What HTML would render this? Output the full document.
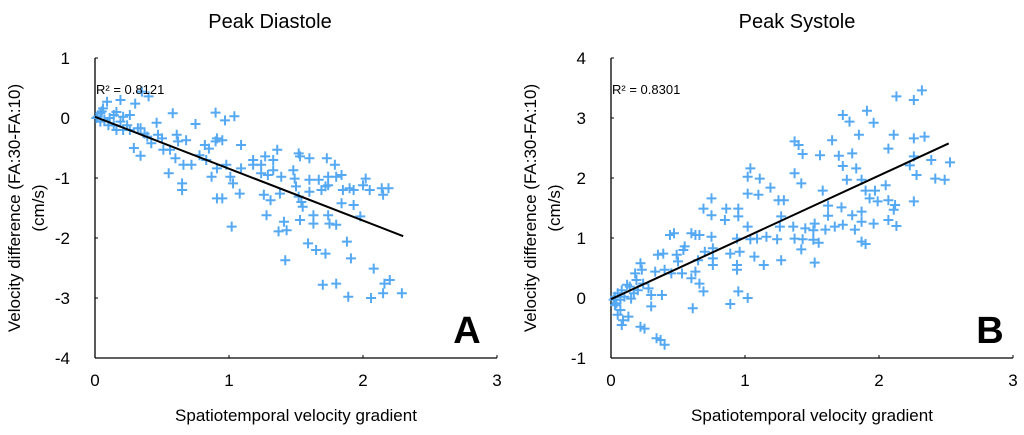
<!DOCTYPE html>
<html><head><meta charset="utf-8"><style>
html,body{margin:0;padding:0;background:#fff;}
svg{display:block;font-family:"Liberation Sans",Arial,sans-serif;}
</style></head><body>
<svg id="chart" width="1024" height="435" viewBox="0 0 1024 435"></svg>
<script>
// ---- Panel A data (Peak Diastole) ----
const diastoleX = [0.09,0.19,0.3,0.35,0.4,0.58,0.9,0.97,1.04,0.75,0.46,0.34,0.26,0.16,0.04,0.06,0.11,0.14,0.21,0.29,0.34,0.39,0.42,0.5,0.51,0.55,0.61,0.62,0.6,0.66,0.65,0.65,0.72,0.82,0.85,0.9,0.95,0.87,0.91,0.95,0.91,0.98,1.01,1.03,1.02,1.09,1.09,1.08,1.18,1.18,1.24,1.27,1.36,1.33,1.29,1.26,1.31,1.28,1.37,1.41,1.43,1.42,1.39,1.38,1.48,1.49,1.52,1.53,1.5,1.52,1.54,1.53,1.55,1.59,1.6,1.6,1.6,1.63,1.63,1.65,1.67,1.69,1.72,1.7,1.73,1.74,1.74,1.74,1.75,1.79,1.8,1.8,1.8,1.84,1.84,1.85,1.88,1.89,1.9,1.91,1.93,1.93,1.98,2.0,2.02,2.05,2.06,2.08,2.14,2.15,2.16,2.15,2.19,2.2,2.29,0.91,0.83,0.78,0.68,0.56,0.47,0.37,0.32,0.24,0.19,0.07,0.02,0.05,0.14,0.21,0.1,0.16,0.01,0.04,0.26,1.24,1.33,1.72];
const diastoleY = [0.27,0.3,0.24,0.44,0.36,0.08,0.09,-0.04,0.03,-0.1,-0.08,-0.17,0.05,0.1,0.08,0.16,0,-0.12,-0.2,-0.5,-0.63,-0.31,-0.42,-0.34,-0.53,-0.92,-0.28,-0.39,-0.67,-0.78,-1.09,-1.2,-0.78,-0.45,-0.51,-0.39,-0.37,-0.98,-1.34,-1.34,-0.84,-0.78,-0.98,-1.09,-1.81,-0.45,-0.84,-1.26,-0.7,-0.78,-0.92,-0.64,-0.53,-0.87,-0.95,-1.28,-1.37,-1.62,-1.89,-1.73,-1.87,-2.37,-0.98,-1.26,-0.87,-1.01,-0.59,-0.64,-1.14,-1.31,-1.4,-1.7,-1.48,-2.09,-0.67,-1.03,-1.23,-1.62,-1.76,-2.2,-1.03,-1.2,-2.26,-2.78,-0.67,-0.98,-1.12,-1.62,-1.76,-0.78,-0.98,-1.78,-2.76,-0.95,-1.42,-1.2,-2.06,-2.98,-1.17,-2.34,-1.45,-1.2,-1.64,-1.12,-1.01,-1.2,-3.0,-2.51,-1.17,-1.28,-2.76,-2.92,-1.17,-2.7,-2.92,-0.34,-0.7,-0.62,-0.37,-0.53,-0.28,-0.26,-0.17,-0.12,-0.06,-0.03,0.02,0.11,0.05,0.02,-0.12,-0.2,0,-0.06,-0.2,-0.78,-0.7,-1.14];
const diastoleFit = [0.02, -0.865]; // intercept, slope
// ---- Panel B data (Peak Systole) ----
const systoleX = [2.13,2.32,2.26,1.73,1.78,1.91,1.96,1.85,1.65,1.37,1.4,1.43,1.56,1.7,1.8,1.73,1.83,2.11,2.07,2.26,2.34,2.26,2.39,2.53,2.23,2.28,2.42,2.49,1.76,1.87,1.37,1.42,1.04,1.02,1.11,1.19,1.02,1.1,1.25,1.29,1.58,1.9,1.97,2.05,1.93,1.99,2.07,2.12,2.11,2.26,1.62,1.72,1.8,1.87,1.62,2.07,2.13,1.96,1.87,1.73,1.67,1.6,1.82,1.52,1.51,1.45,1.36,1.27,1.26,1.37,1.43,1.42,1.51,1.55,1.52,1.87,1.9,1.24,1.16,1.09,1.04,0.94,1.02,1.27,1.14,1.07,0.96,0.89,0.94,0.94,0.95,1.02,0.89,0.75,0.69,0.75,0.86,0.95,0.85,0.95,0.75,0.76,0.7,0.76,0.76,0.65,0.63,0.6,0.63,0.66,0.55,0.54,0.49,0.44,0.47,0.39,0.35,0.5,0.45,0.4,0.33,0.53,0.6,0.66,0.69,0.61,0.38,0.3,0.3,0.22,0.23,0.18,0.19,0.24,0.28,0.14,0.12,0.08,0.05,0.03,0.02,0.04,0.07,0.05,0.09,0.08,0.13,0.22,0.25,0.34,0.37,0.4,0.1,0.15,0.2,0.17,0.07,0.03];
const systoleY = [3.36,3.46,3.3,3.05,2.94,3.12,2.92,2.72,2.63,2.61,2.55,2.4,2.38,2.37,2.41,2.2,2.16,2.72,2.49,2.66,2.69,2.36,2.3,2.26,2.21,2.05,1.99,1.97,1.97,1.97,2.08,1.91,2.16,2.02,1.99,1.84,1.74,1.72,1.63,1.63,1.79,1.79,1.79,1.88,1.66,1.61,1.63,1.55,1.47,1.61,1.54,1.51,1.38,1.44,1.37,1.3,1.2,1.24,1.27,1.22,1.19,1.14,1.14,1.24,1.13,1.16,1.19,1.36,1.19,0.99,0.98,0.81,0.97,0.92,0.59,0.94,0.9,0.98,1.02,0.99,0.98,0.99,1.19,0.63,0.55,0.69,0.77,0.74,0.55,0.47,0.11,0,-0.1,1.66,1.49,1.38,1.49,1.49,1.3,1.36,1.02,0.83,0.77,0.66,0.55,0.63,0.44,1.08,1.05,1.05,0.86,0.8,0.72,1.05,1.08,0.74,0.72,0.61,0.41,0.47,0.44,0.41,0.33,0.24,0.11,-0.17,0.05,0.05,-0.14,0.58,0.47,0.41,0.3,0.24,0.16,0.19,0.22,0.13,0.08,0.02,-0.03,-0.09,-0.2,-0.28,-0.37,-0.45,-0.31,-0.48,-0.51,-0.67,-0.7,-0.78,0.02,-0.01,0.13,0.08,-0.03,-0.12];
const systoleFit = [-0.02, 1.03];
const xTicks = [0,1,2,3];
const yTicksA = [1,0,-1,-2,-3,-4];
const yTicksB = [4,3,2,1,0,-1];

const NS = "http://www.w3.org/2000/svg";
const svg = document.getElementById('chart');
function mk(tag, attrs, parent){
  const e = document.createElementNS(NS, tag);
  for (const k in attrs) e.setAttribute(k, attrs[k]);
  (parent||svg).appendChild(e);
  return e;
}
function panel(o){
  const g = mk('g', {});
  
  
  const sx = v => o.x0 + v*134;
  const sy = v => o.y0 - (v - o.yMin)*60;
  const top = sy(o.yMax), bot = sy(o.yMin);
  // axes
  const ya = mk('line', {x1:o.x0,y1:top,x2:o.x0,y2:bot,stroke:'#000','stroke-width':1.3}, g);
  
  
  const xa = mk('line', {x1:o.x0,y1:bot,x2:sx(3),y2:bot,stroke:'#000','stroke-width':1.3}, g);
  
  
  xTicks.forEach(t => {
    mk('line', {x1:sx(t),y1:bot,x2:sx(t),y2:bot-3,stroke:'#000','stroke-width':1}, g);
    const tx = mk('text', {x:sx(t),y:bot+28,'text-anchor':'middle','font-size':17}, g);
    tx.textContent = t;
    
    
  });
  o.yTicks.forEach(t => {
    mk('line', {x1:o.x0,y1:sy(t),x2:o.x0+3,y2:sy(t),stroke:'#000','stroke-width':1}, g);
    const ty = mk('text', {x:o.x0-25,y:sy(t)+6,'text-anchor':'end','font-size':17}, g);
    ty.textContent = t;
    
    
  });
  // points
  for (let i=0;i<o.xs.length;i++){
    const cx = sx(o.xs[i]), cy = sy(o.ys[i]);
    const p = mk('path', {d:`M${cx-5} ${cy}H${cx+5}M${cx} ${cy-5}V${cy+5}`,stroke:'#55a9f2','stroke-width':2}, g);
    
    
  }
  // trendline
  const x1 = 0, x2 = o.fitEnd;
  const tl = mk('line', {x1:sx(x1),y1:sy(o.fit[0]+o.fit[1]*x1),x2:sx(x2),y2:sy(o.fit[0]+o.fit[1]*x2),stroke:'#000','stroke-width':2}, g);
  
  
  const r = mk('text', {x:o.x0+1,y:sy(o.yMax)+36,'font-size':13}, g);
  r.textContent = o.r2;
  
  
  const ti = mk('text', {x:o.titleX,y:28,'text-anchor':'middle','font-size':20}, g);
  ti.textContent = o.title;
  
  
  const xl = mk('text', {x:o.x0+201,y:421,'text-anchor':'middle','font-size':17}, g);
  xl.textContent = 'Spatiotemporal velocity gradient';
  
  
  const yl = mk('text', {transform:`translate(${o.x0-75},208) rotate(-90)`,'text-anchor':'middle','font-size':17}, g);
  
  
  const t1 = mk('tspan', {x:0,y:0}, yl); t1.textContent = 'Velocity difference (FA:30-FA:10)';
  const t2 = mk('tspan', {x:0,y:24}, yl); t2.textContent = '(cm/s)';
  const L = mk('text', {x:o.letterX,y:343,'text-anchor':'middle','font-size':38,'font-weight':'bold'}, g);
  L.textContent = o.letter;
  
  
}
panel({name:'panel-a-peak-diastole',x0:95,y0:358,yMin:-4,yMax:1,yTicks:yTicksA,xs:diastoleX,ys:diastoleY,fit:diastoleFit,fitEnd:2.3,r2:'R² = 0.8121',title:'Peak Diastole',titleX:270,letter:'A',letterX:467});
panel({name:'panel-b-peak-systole',x0:611,y0:358,yMin:-1,yMax:4,yTicks:yTicksB,xs:systoleX,ys:systoleY,fit:systoleFit,fitEnd:2.52,r2:'R² = 0.8301',title:'Peak Systole',titleX:797,letter:'B',letterX:990});
</script>
</body></html>
